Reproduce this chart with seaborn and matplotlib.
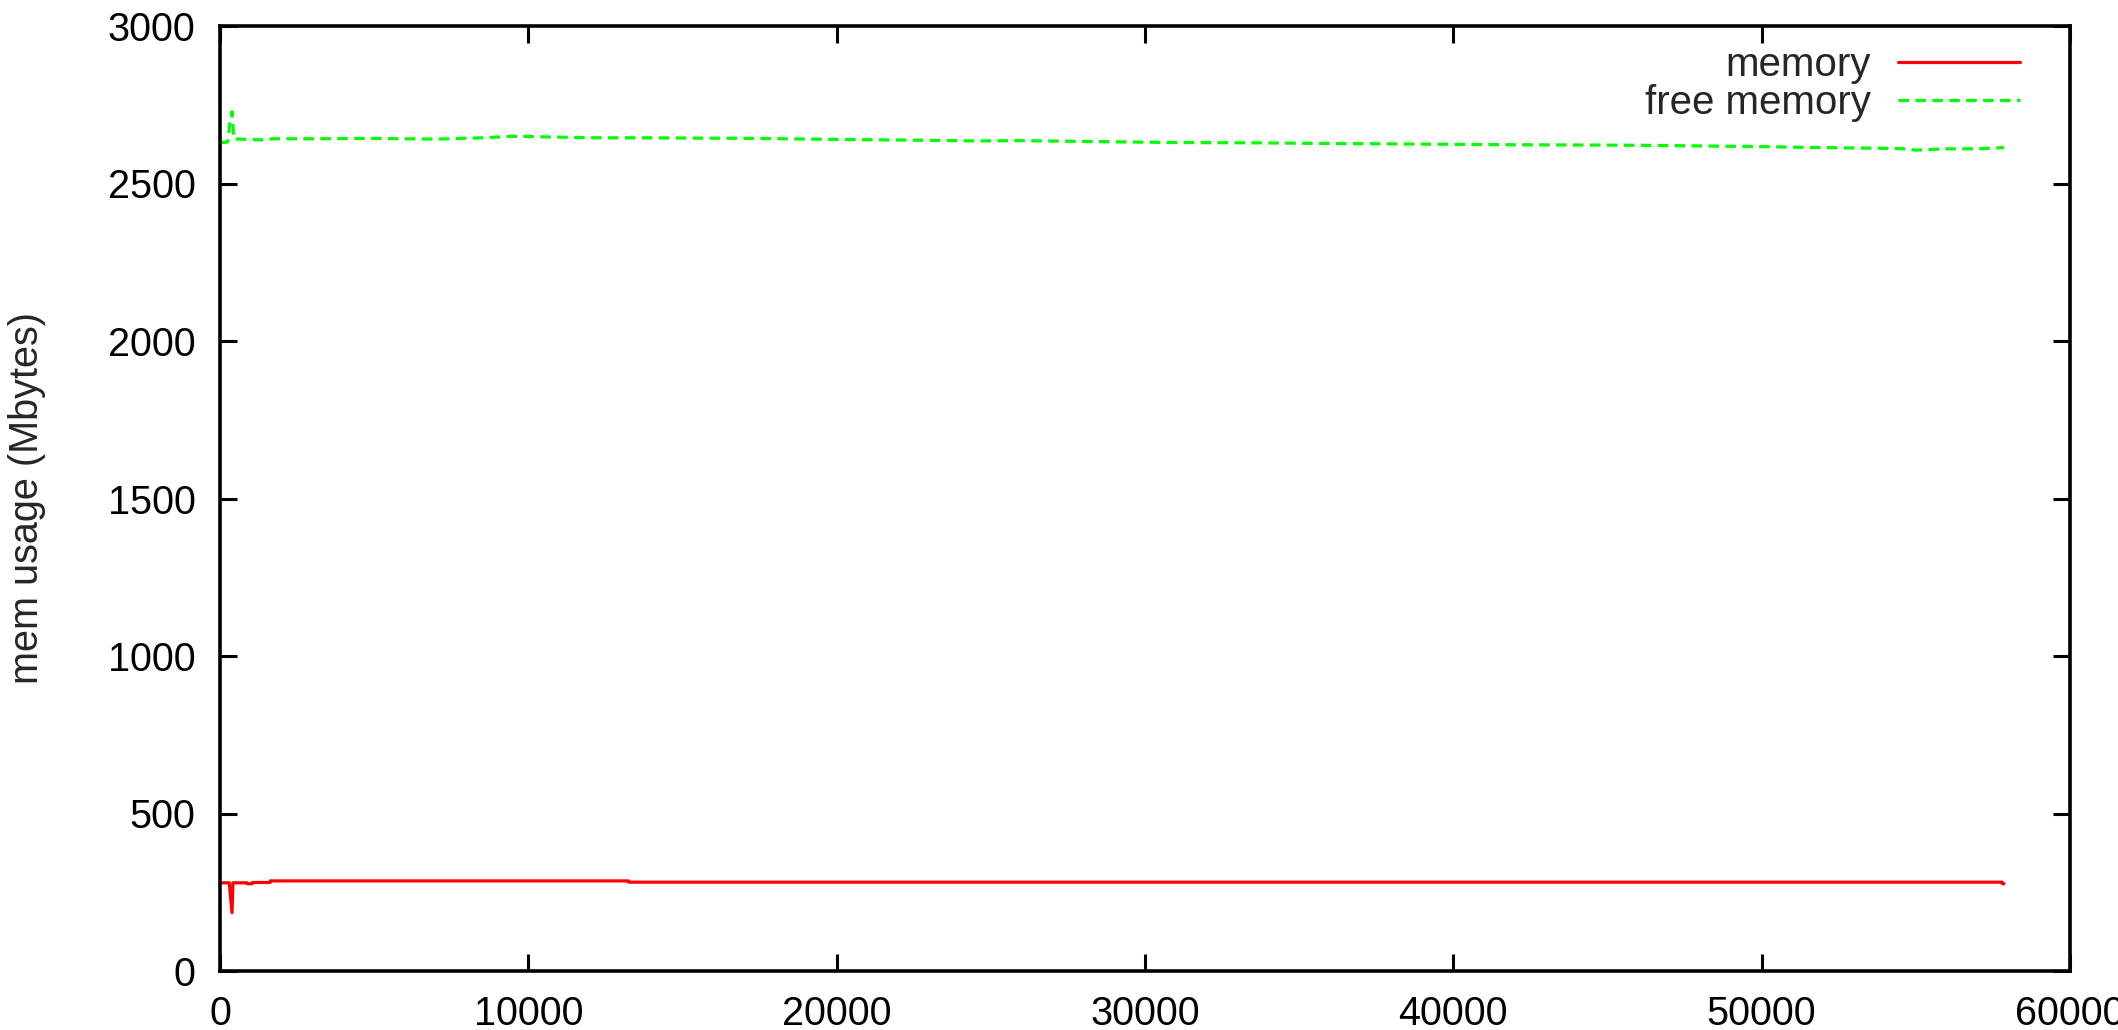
import matplotlib
matplotlib.use("Agg")
import matplotlib.pyplot as plt
import seaborn as sns

# ---- data ----
mem_x = [0, 300, 390, 420, 870, 880, 1040, 1050, 1620, 1630, 13250, 13260, 57800, 57810, 57860]
mem_y = [280, 280, 185, 280, 280, 277, 277, 281, 281, 286, 286, 282, 282, 277, 277]

free_x = [0, 250, 330, 390, 450, 600, 1500, 1700, 3000, 5000, 7000, 8500, 9500, 10500,
          12300, 14000, 15500, 17500, 20000, 23000, 24500, 26000, 28500, 31000, 33700,
          36000, 39200, 42000, 44700, 46500, 49900, 52000, 54500, 55000, 56000, 57000, 57860]
free_y = [2629, 2632, 2700, 2728, 2641, 2641, 2638, 2642, 2642, 2643, 2641, 2645, 2650, 2648,
          2645, 2645, 2644, 2643, 2640, 2637, 2635, 2636, 2633, 2630, 2629,
          2627, 2625, 2623, 2622, 2621, 2617, 2614, 2611, 2606, 2610, 2610, 2614]

x_ticks = [0, 10000, 20000, 30000, 40000, 50000, 60000]
y_ticks = [0, 500, 1000, 1500, 2000, 2500, 3000]
y_label = "mem usage (Mbytes)"
series_labels = ["memory", "free memory"]

# ---- style ----
sns.set_style("ticks")
plt.rcParams['font.family'] = ['Liberation Sans', 'DejaVu Sans']

fig = plt.figure(figsize=(21.18, 10.30), dpi=100)
ax = fig.add_axes([220 / 2118, 1 - 971 / 1030, 1850 / 2118, 945 / 1030])

sns.lineplot(x=mem_x, y=mem_y, ax=ax, color="#ff0000", linewidth=2.3,
             label=series_labels[0], estimator=None)
sns.lineplot(x=free_x, y=free_y, ax=ax, color="#00ff00", linewidth=2.3,
             label=series_labels[1], estimator=None)
ax.lines[1].set_dashes([3.3, 2.0])

ax.set_xlim(0, 60000)
ax.set_ylim(0, 3000)
ax.set_xticks(x_ticks)
ax.set_yticks(y_ticks)
ax.set_xticklabels([str(t) for t in x_ticks])
ax.set_yticklabels([str(t) for t in y_ticks])

for s in ax.spines.values():
    s.set_visible(True)
    s.set_linewidth(2.6)
    s.set_color("black")

ax.tick_params(axis="both", which="major", direction="in", length=12, width=2.2,
               labelsize=28.5, pad=17.5, top=True, right=True, colors="black")

ax.set_xlabel("")
ax.set_ylabel(y_label, fontsize=28.5)
ax.yaxis.set_label_coords((46 - 220) / 1850, 0.5)

leg = ax.legend(loc="upper right", bbox_to_anchor=((2020 - 220) / 1850, (971 - 46) / 945),
                frameon=False, markerfirst=False, fontsize=29, handlelength=3.03,
                handletextpad=0.67, labelspacing=0.0, borderaxespad=0, borderpad=0)
leg._legend_box.align = "right"
fig.savefig("out.png", dpi=100, facecolor="white")
